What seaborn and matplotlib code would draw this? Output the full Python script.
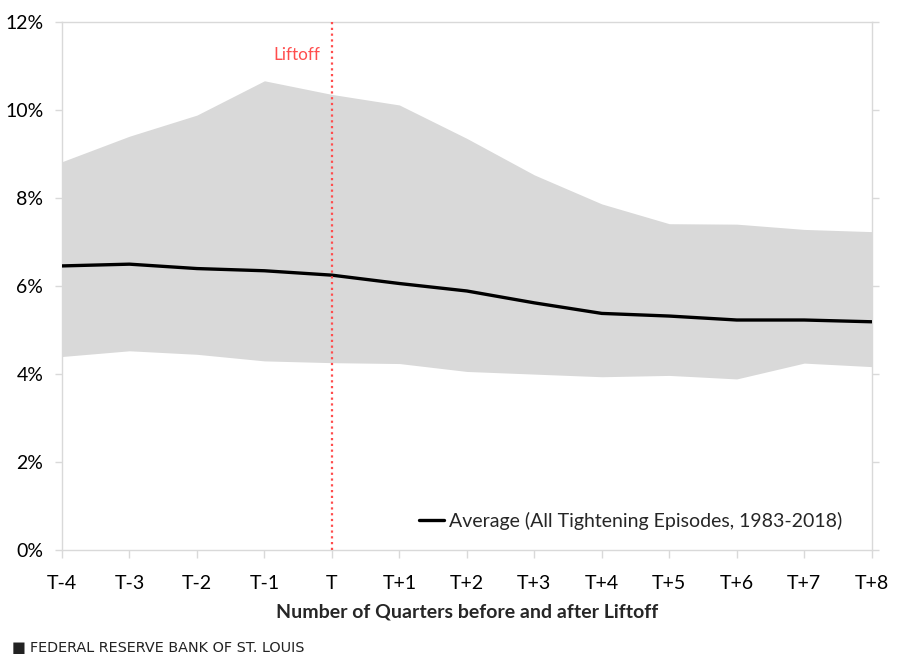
import matplotlib
matplotlib.use("Agg")
import matplotlib.pyplot as plt
import seaborn as sns
import pandas as pd
from matplotlib.ticker import FuncFormatter

quarters = ["T-4", "T-3", "T-2", "T-1", "T", "T+1", "T+2", "T+3", "T+4", "T+5", "T+6", "T+7", "T+8"]
average = [6.46, 6.50, 6.40, 6.35, 6.25, 6.06, 5.89, 5.62, 5.38, 5.32, 5.23, 5.23, 5.19]
band_high = [8.83, 9.41, 9.89, 10.67, 10.36, 10.12, 9.36, 8.53, 7.87, 7.42, 7.41, 7.29, 7.24]
band_low = [4.40, 4.53, 4.45, 4.30, 4.26, 4.24, 4.06, 4.00, 3.94, 3.97, 3.89, 4.25, 4.17]
y_ticks = [0, 2, 4, 6, 8, 10, 12]

sns.set_theme(style="white")
plt.rcParams["font.family"] = ["Lato", "DejaVu Sans"]

df = pd.DataFrame({"pos": range(len(quarters)), "quarter": quarters, "avg": average,
                   "hi": band_high, "lo": band_low})

fig = plt.figure(figsize=(9.09, 6.60), dpi=100)
ax = fig.add_axes([62 / 909, 1 - 550 / 660, (871.7 - 62) / 909, (550 - 22.3) / 660])

ax.fill_between(df["pos"], df["lo"], df["hi"], color="#d9d9d9", linewidth=0, zorder=1)
sns.lineplot(data=df, x="pos", y="avg", color="black", linewidth=2.4, ax=ax,
             label="Average (All Tightening Episodes, 1983-2018)", zorder=3)
ax.axvline(quarters.index("T"), color="#ff4d4d", linestyle=(0, (1, 1.6)), linewidth=1.6, zorder=4)
ax.text(quarters.index("T") - 0.17, 11.25, "Liftoff", color="#ff4d4d", fontsize=12.3,
        ha="right", va="center")

ax.set_xlim(0, len(quarters) - 1)
ax.set_ylim(0, 12)
ax.set_xticks(df["pos"])
ax.set_xticklabels(quarters)
ax.set_yticks(y_ticks)
ax.yaxis.set_major_formatter(FuncFormatter(lambda v, p: f"{v:.0f}%"))
ax.tick_params(axis="both", labelsize=14, colors="#d9d9d9", labelcolor="black", length=6, width=1)
ax.tick_params(axis="x", pad=12, direction="out", bottom=True)
ax.tick_params(axis="y", pad=8.5, direction="out", left=True, right=True, labelright=False, length=5)
ax.set_xlabel("Number of Quarters before and after Liftoff", fontsize=14, fontweight="bold", labelpad=8)
ax.set_ylabel("")
for s in ax.spines.values():
    s.set_color("#d9d9d9")
    s.set_linewidth(1)

leg = ax.legend(loc="lower right", bbox_to_anchor=(0.985, 0.005), frameon=False, fontsize=14,
                handlelength=1.3, handletextpad=0.25)

fig.text(12 / 909, 1 - 648 / 660, "\u25A0", fontsize=10.5, color="#222222", va="center", ha="left",
         family=["DejaVu Sans"])
fig.text(30 / 909, 1 - 648 / 660, "FEDERAL RESERVE BANK OF ST. LOUIS", fontsize=10.4, color="#222222",
         va="center", ha="left", family=["DejaVu Sans"])

fig.savefig("out.png", dpi=100)
